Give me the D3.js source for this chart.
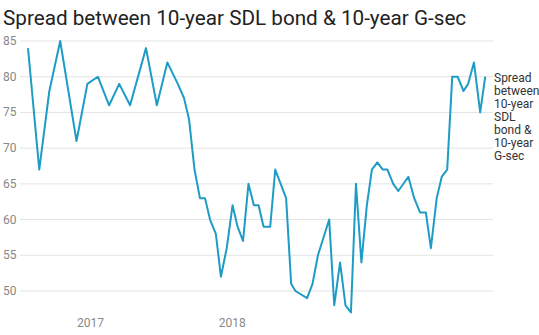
<!DOCTYPE html>
<html><head><meta charset="utf-8">
<script src="https://cdnjs.cloudflare.com/ajax/libs/d3/7.8.5/d3.min.js"></script>
<style>
body{margin:0;background:#fff;font-family:Roboto,"Noto Sans",sans-serif;}
</style></head><body>
<svg id="c" width="539" height="335"></svg>
<script>
const title = "Spread between 10-year SDL bond & 10-year G-sec";
const seriesName = ["Spread","between","10-year","SDL","bond &","10-year","G-sec"];
// day offsets from 2017-01-01
const dayOffsets = [-160,-131,-105,-77,-35,-7,20,49,75,103,144,172,199,226,242,255,269,283,296,309,324,337,352,367,380,394,408,422,434,447,464,477,505,518,529,559,573,587,616,629,644,658,672,685,699,713,726,740,754,766,781,794,820,835,850,865,878,893,906,920,933,947,962,974,989,1005,1018];
const values = [84,67,78,85,71,79,80,76,79,76,84,76,82,79,77,74,67,63,63,60,58,52,56,62,59,57,65,62,62,59,59,67,63,51,50,49,51,55,60,48,54,48,47,65,54,62,67,68,67,67,65,64,66,63,61,61,56,63,66,67,80,80,78,79,82,75,80];
const yTicks = [50,55,60,65,70,75,80,85];
const xTickYears = [2017,2018];

const base = new Date(2017,0,1);
const dates = dayOffsets.map(d => d3.timeDay.offset(base, d));
</script>
<script>
const svg = d3.select("#c");
svg.append("text").attr("x",3).attr("y",25).attr("font-size",20.7).attr("fill","#222")
  .attr("font-family","Roboto").text(title);

const n = Math.min(dates.length, values.length);
const data = d3.range(n).map(i => ({d: dates[i], v: values[i]}));

const x = d3.scaleTime().domain([new Date(2016,6,25), new Date(2019,9,18)]).range([28,486]);
const y = d3.scaleLinear().domain([50,85]).range([291,41]);

const gy = svg.append("g");
yTicks.forEach(t => {
  gy.append("line").attr("x1",20).attr("x2",493).attr("y1",y(t)).attr("y2",y(t))
    .attr("stroke","#e3e3e3").attr("stroke-width",1);
  gy.append("text").attr("x",3).attr("y",y(t)+4).attr("font-size",12).attr("fill","#888").text(t);
});

const xAxis = d3.axisBottom(x).tickValues(xTickYears.map(yr => new Date(yr,0,1)))
  .tickFormat(d3.timeFormat("%Y")).tickSize(0).tickPadding(0);
const gx = svg.append("g").attr("transform","translate(0,318)").call(xAxis);
gx.select(".domain").remove();
gx.selectAll("text").attr("font-size",12).attr("fill","#888").attr("font-family","Roboto");

svg.append("path").datum(data).attr("fill","none").attr("stroke","#1e9cc6").attr("stroke-width",2)
  .attr("stroke-linejoin","round")
  .attr("d", d3.line().x(d => x(d.d)).y(d => y(d.v)));

const lab = svg.append("text").attr("x",494).attr("font-size",12).attr("fill","#333");
seriesName.forEach((s,i) => lab.append("tspan").attr("x",494).attr("y",82+i*13).text(s));
</script>
</body></html>
